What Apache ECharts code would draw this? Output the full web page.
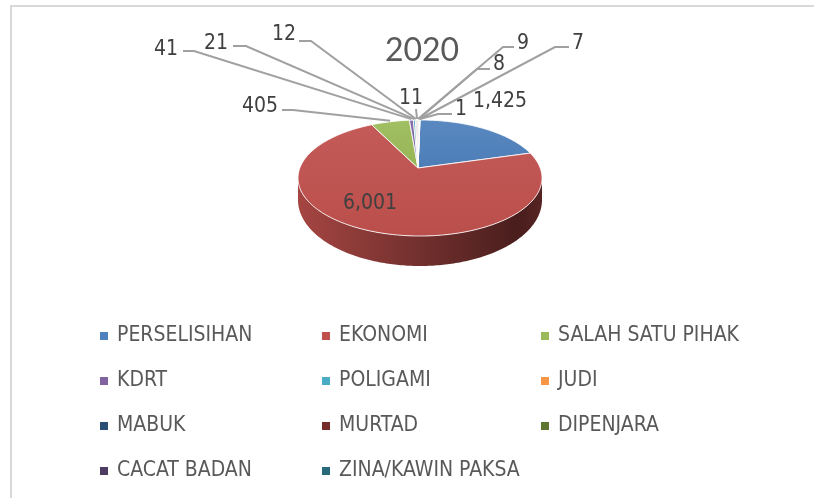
<!DOCTYPE html>
<html>
<head>
<meta charset="utf-8">
<script src="https://cdn.jsdelivr.net/npm/echarts@6/dist/echarts.min.js"></script>
<style>
  html, body { margin: 0; padding: 0; background: #fff; }
  #chart { width: 814px; height: 498px; }
</style>
</head>
<body>
<div id="chart"></div>
<script>
// Data
var title = '2020';
var categories = ['PERSELISIHAN', 'EKONOMI', 'SALAH SATU PIHAK', 'KDRT', 'POLIGAMI', 'JUDI',
  'MABUK', 'MURTAD', 'DIPENJARA', 'CACAT BADAN', 'ZINA/KAWIN PAKSA'];
var values = [1425, 6001, 405, 41, 21, 12, 11, 9, 8, 7, 1];
var colors = ['#4F81BD', '#C0504D', '#9BBB59', '#8064A2', '#4BACC6', '#F79646',
  '#2C4D75', '#772C2A', '#5F7530', '#4D3B62', '#276A7C'];

// where each data label sits, and the bend of its leader line
var labelLayout = [
  { x: 500, y: 102, align: 'center', leader: null },
  { x: 370, y: 204, align: 'center', leader: null },
  { x: 278, y: 107, align: 'right', leader: [[282, 110], [293, 110]] },
  { x: 178, y: 50, align: 'right', leader: [[183, 51], [194, 51]] },
  { x: 228, y: 44, align: 'right', leader: [[233, 46], [246, 46]] },
  { x: 296, y: 35, align: 'right', leader: [[299, 41], [311, 41]] },
  { x: 411, y: 99, align: 'center', leader: [[416, 109]] },
  { x: 517, y: 44, align: 'left', leader: [[514, 47], [503, 47]] },
  { x: 493, y: 65, align: 'left', leader: [[490, 69], [477, 69]] },
  { x: 572, y: 44, align: 'left', leader: [[569, 47], [555, 47]] },
  { x: 455, y: 110, align: 'left', leader: [[452, 114], [438, 114]] }
];

var FONT = '"Liberation Sans Narrow", "DejaVu Sans Condensed", Lato, sans-serif';
var pie = { cx: 420, cy: 178, rx: 122, ry: 58, apexDy: -10 };

var chart = echarts.init(document.getElementById('chart'));

var total = values.reduce(function (s, v) { return s + v; }, 0);
var startAngles = [];
var acc = 0;
values.forEach(function (v) {
  startAngles.push(-90 + acc / total * 360);
  acc += v;
});

function depthAt(t) {
  return 22 + 8 * Math.sin(t * Math.PI / 180);
}

function rim(t, lower) {
  var r = t * Math.PI / 180;
  return [pie.cx + pie.rx * Math.cos(r), pie.cy + pie.ry * Math.sin(r) + (lower ? depthAt(t) : 0)];
}

function arc(a1, a2, lower) {
  var n = Math.max(2, Math.ceil(Math.abs(a2 - a1)) + 1);
  var pts = [];
  for (var k = 0; k < n; k++) {
    pts.push(rim(a1 + (a2 - a1) * k / (n - 1), lower));
  }
  return pts;
}

function shade(hex, f) {
  var n = parseInt(hex.slice(1), 16);
  var c = [(n >> 16) & 255, (n >> 8) & 255, n & 255].map(function (x) {
    return Math.round(f < 0 ? x * (1 + f) : x + (255 - x) * f);
  });
  return 'rgb(' + c.join(',') + ')';
}

function renderSlice(params, api) {
  var i = params.seriesIndex;
  var v = api.value(0);
  var a1 = startAngles[i];
  var a2 = a1 + v / total * 360;
  var c = colors[i];
  var children = [];

  // front wall, only where the slice faces the viewer
  [-360, 0, 360].forEach(function (k) {
    var s = Math.max(a1, k), e = Math.min(a2, k + 180);
    if (e > s) {
      children.push({
        type: 'polygon',
        z2: 1,
        shape: { points: arc(s, e, false).concat(arc(e, s, true)) },
        style: {
          fill: new echarts.graphic.LinearGradient(0, 0, 1, 0, [
            { offset: 0, color: shade(c, -0.14) },
            { offset: 0.45, color: shade(c, -0.38) },
            { offset: 0.9, color: shade(c, -0.62) },
            { offset: 1, color: shade(c, -0.55) }
          ]),
          stroke: null
        }
      });
    }
  });

  // top face
  var apex = [pie.cx - 2, pie.cy + pie.apexDy];
  children.push({
    type: 'polygon',
    z2: 5,
    shape: { points: [apex].concat(arc(a1, a2, false)) },
    style: {
      fill: new echarts.graphic.LinearGradient(0, 0, 0, 1, [
        { offset: 0, color: shade(c, 0.06) },
        { offset: 1, color: shade(c, -0.03) }
      ]),
      stroke: 'rgba(255,255,255,0.85)',
      lineWidth: 1
    }
  });

  // data label with leader line
  var lay = labelLayout[i];
  if (lay.leader) {
    var mid = rim((a1 + a2) / 2, false);
    children.push({
      type: 'polyline',
      z2: 8,
      shape: { points: lay.leader.concat([[mid[0], mid[1] - 1]]) },
      style: { stroke: '#A0A0A0', lineWidth: 2, fill: null }
    });
  }
  children.push({
    type: 'text',
    z2: 10,
    style: {
      text: echarts.format.addCommas(v),
      x: lay.x,
      y: lay.y,
      align: lay.align,
      verticalAlign: 'middle',
      font: '21px ' + FONT,
      fill: '#404040'
    }
  });

  return { type: 'group', children: children };
}

var series = categories.map(function (name, i) {
  return {
    type: 'custom',
    name: name,
    coordinateSystem: 'none',
    itemStyle: { color: colors[i] },
    renderItem: renderSlice,
    data: [[values[i]]]
  };
});

var legendLefts = [100, 322, 541];
var legends = legendLefts.map(function (left, col) {
  return {
    orient: 'vertical',
    left: left,
    top: 325,
    padding: 0,
    itemGap: 23,
    itemWidth: 8,
    itemHeight: 8,
    icon: 'rect',
    selectedMode: false,
    data: categories.filter(function (n, i) { return i % 3 === col; }),
    textStyle: {
      fontFamily: FONT,
      fontSize: 21,
      lineHeight: 22,
      color: '#595959',
      padding: [0, 0, 0, 4]
    }
  };
});

option = {
  backgroundColor: '#fff',
  animation: false,
  title: {
    text: title,
    left: 417,
    textAlign: 'center',
    top: 30,
    textStyle: {
      fontFamily: 'Lato, sans-serif',
      fontSize: 32,
      fontWeight: 'normal',
      color: '#595959'
    }
  },
  legend: legends,
  graphic: [{
    type: 'rect',
    shape: { x: 11, y: 6, width: 830, height: 520 },
    style: { fill: null, stroke: '#D9D9D9', lineWidth: 2 },
    silent: true
  }],
  series: series
};

chart.setOption(option);
</script>
</body>
</html>
